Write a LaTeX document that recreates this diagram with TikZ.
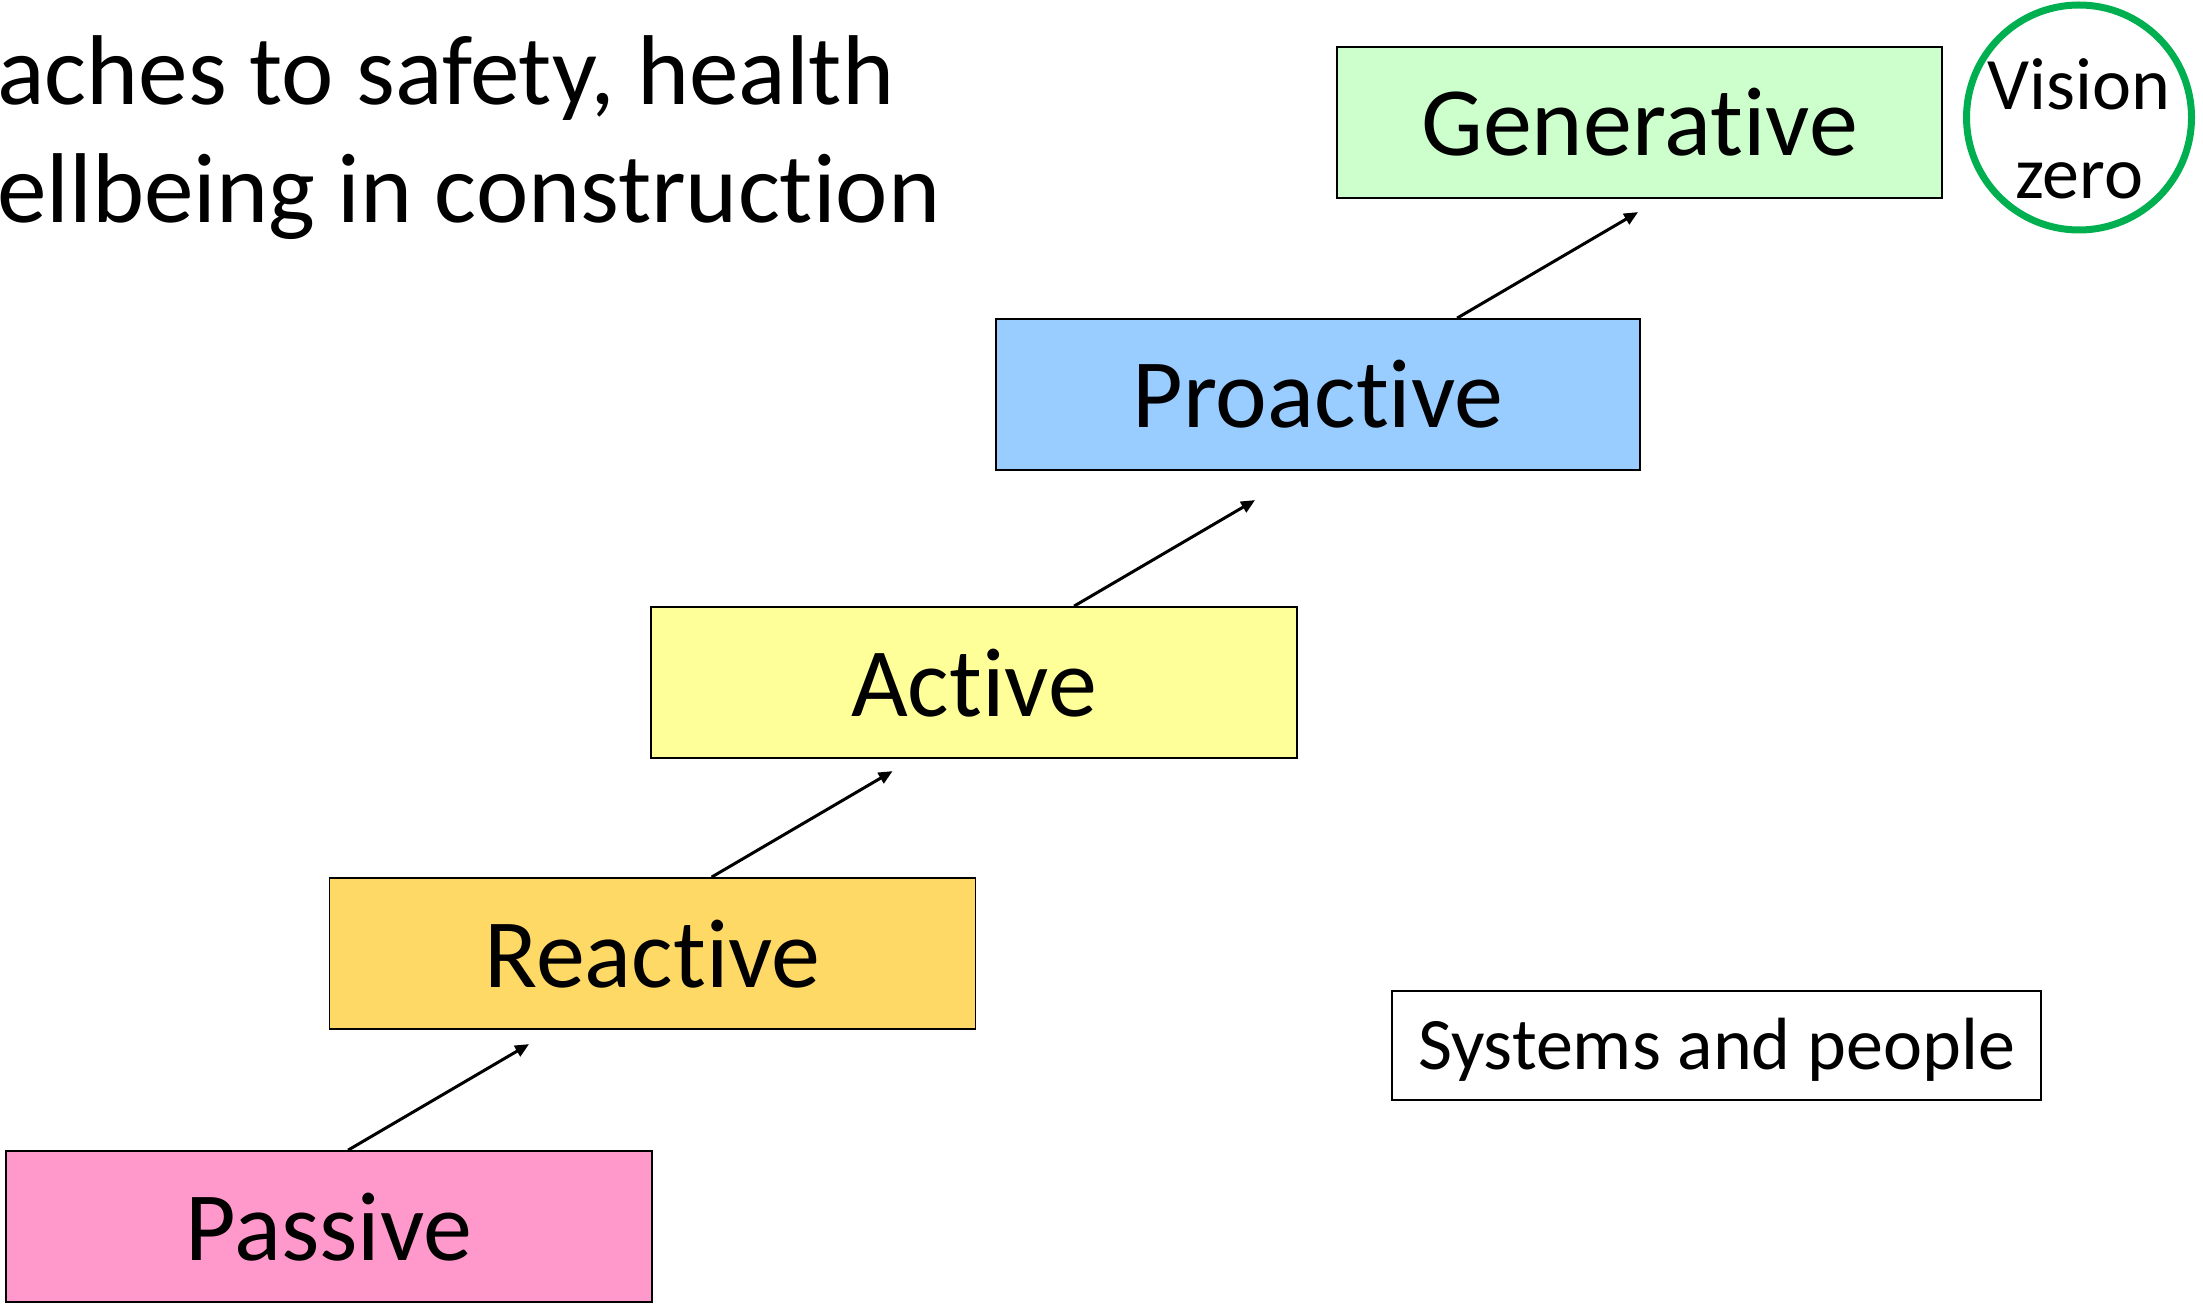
\documentclass[tikz,border=0pt]{standalone}
\usepackage{fontspec}
\setmainfont{Carlito}[Ligatures={NoCommon}]
\usetikzlibrary{arrows.meta,calc}
\definecolor{cpassive}{HTML}{FF99CC}
\definecolor{creactive}{HTML}{FFD966}
\definecolor{cactive}{HTML}{FFFF99}
\definecolor{cproactive}{HTML}{99CCFF}
\definecolor{cgenerative}{HTML}{CCFFCC}
\definecolor{cgreen}{HTML}{00B050}
\begin{document}
\begin{tikzpicture}[x=0.5pt,y=-0.5pt,
  stagebox/.style={draw=black, line width=0.9pt, rectangle, minimum width=323pt,
    minimum height=75.5pt, inner sep=0pt, font=\fontsize{49}{59}\selectfont,
    text height=33.5pt, text depth=0pt},
  arr/.style={-{Triangle[length=7pt,width=6pt]}, line width=1.5pt},
  titletext/.style={anchor=base west, inner sep=0pt, font=\fontsize{49.6}{59}\selectfont},
  visionring/.style={draw=cgreen, line width=3.5pt, circle, minimum size=112.5pt, inner sep=0pt},
  sysbox/.style={draw=black, line width=0.9pt, rectangle, minimum width=324.5pt,
    minimum height=54.5pt, inner sep=0pt, font=\fontsize{37}{44}\selectfont,
    text height=23.5pt, text depth=0pt}]
\useasboundingbox (0,0) rectangle (2203,1304);

\node[titletext] (title1) at (-3,105) {aches to safety, health};
\node[titletext] (title2) at (-3,223) {ellbeing in construction};

\node[stagebox, fill=cpassive] (passive) at (329,1226.5) {Passive};
\node[stagebox, fill=creactive] (reactive) at (652.5,953.5) {Reactive};
\node[stagebox, fill=cactive] (active) at (974,682.5) {Active};
\node[stagebox, fill=cproactive, minimum width=322pt] (proactive) at (1318,394.5) {Proactive};
\node[stagebox, fill=cgenerative, minimum width=302.5pt] (generative) at (1639.5,122.5) {Generative};

\node[visionring] (vz) at (2079,117.5) {};
\node[font=\fontsize{37}{44.5}\selectfont, align=center, inner sep=0pt] (vztext) at (2079,128.7) {Vision\\zero};

\node[sysbox] (sys) at (1716.5,1045.5) {Systems and people};

\coordinate (s1) at ($(passive.north west)+(343,0)$);
\coordinate (e1) at ($(s1)+(181,-106)$);
\coordinate (s2) at ($(reactive.north west)+(383,0)$);
\coordinate (e2) at ($(s2)+(181,-106)$);
\coordinate (s3) at ($(active.north west)+(424,0)$);
\coordinate (e3) at ($(s3)+(181,-106)$);
\coordinate (s4) at ($(proactive.north west)+(462,0)$);
\coordinate (e4) at ($(s4)+(181,-106)$);
\draw[arr] (s1) -- (e1);
\draw[arr] (s2) -- (e2);
\draw[arr] (s3) -- (e3);
\draw[arr] (s4) -- (e4);
\end{tikzpicture}
\end{document}
